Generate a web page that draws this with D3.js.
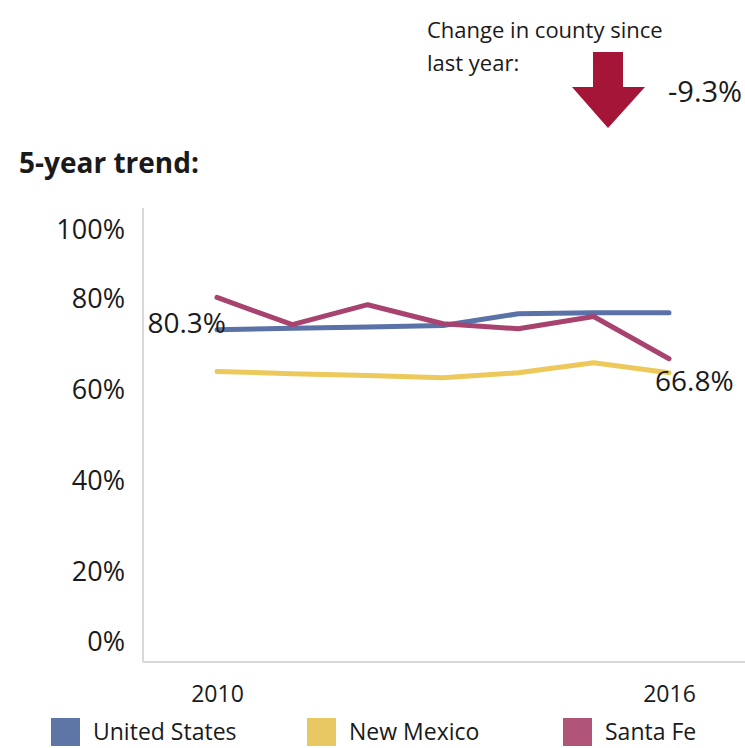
<!DOCTYPE html>
<meta charset="utf-8">
<style>
body { margin: 0; background: #fff; }
svg text { font-family: "Open Sans", Lato, sans-serif; fill: #1a1a1a; }
.line { fill: none; stroke-width: 5; stroke-linejoin: round; stroke-linecap: round; }
</style>
<body>
<svg class="chart js-chart"></svg>
<script src="https://d3js.org/d3.v7.min.js"></script>
<script type="text/javascript">
"use strict";

var years = [2010, 2011, 2012, 2013, 2014, 2015, 2016];
var unitedStates = [73.2, 73.5, 73.8, 74.1, 76.7, 76.9, 76.9];
var newMexico = [64.0, 63.5, 63.1, 62.6, 63.7, 65.9, 63.7];
var santaFe = [80.3, 74.3, 78.7, 74.5, 73.4, 76.1, 66.8];
var seriesNames = ["United States", "New Mexico", "Santa Fe"];
var yTicks = [0, 20, 40, 60, 80, 100];
var xTickYears = [2010, 2016];
var changeSinceLastYear = -9.3;

var width = 745, height = 748;
var plotLeft = 143, plotRight = 745, plotTop = 208, plotBottom = 662;

var lineColors = ["#5a72a8", "#ecc95a", "#a8436f"];
var swatchColors = ["#5e76a6", "#e8c862", "#b05478"];

var svg = d3.select('.js-chart')
  .attr('width', width)
  .attr('height', height);

var x = d3.scalePoint().domain(years).range([217, 669]);
var y = d3.scaleLinear().domain([0, 100]).range([plotBottom, plotTop]);

// header
svg.append("text").attr("x", 427).attr("y", 38).style("font-size", "22px").text("Change in county since");
svg.append("text").attr("x", 427).attr("y", 71).style("font-size", "22px").text("last year:");

// down arrow
svg.append("path")
  .attr("d", "M593,52 L623,52 L623,87 L645,87 L608,128 L572,87 L593,87 Z")
  .style("fill", "#a51538");
svg.append("text").attr("x", 668).attr("y", 102).style("font-size", "29px")
  .text(changeSinceLastYear.toFixed(1) + "%");

svg.append("text").attr("x", 19).attr("y", 173).style("font-size", "28px").style("font-weight", "bold")
  .text("5-year trend:");

// axes
svg.append("line").attr("x1", plotLeft).attr("x2", plotLeft).attr("y1", plotTop).attr("y2", plotBottom)
  .style("stroke", "#d9d9d9").style("stroke-width", 2);
svg.append("line").attr("x1", plotLeft).attr("x2", plotRight).attr("y1", plotBottom).attr("y2", plotBottom)
  .style("stroke", "#d9d9d9").style("stroke-width", 2);

var yAxis = svg.append("g")
  .attr("transform", "translate(125,0)")
  .call(d3.axisLeft(y).tickValues(yTicks).tickSize(0).tickPadding(0).tickFormat(function (d) { return d + "%"; }));
yAxis.select(".domain").remove();
yAxis.selectAll("text")
  .style("font-size", "27px")
  .attr("dy", function (d) { return d === 100 ? "30px" : (d === 0 ? "-12px" : "9px"); });

var xAxis = svg.append("g")
  .attr("transform", "translate(0," + plotBottom + ")")
  .call(d3.axisBottom(x).tickValues(xTickYears).tickSize(0).tickPadding(0));
xAxis.select(".domain").remove();
xAxis.selectAll("text").style("font-size", "23px").attr("dy", "40px");

// lines
var allSeries = [unitedStates, newMexico, santaFe];
var line = d3.line()
  .x(function (d, i) { return x(years[i]); })
  .y(function (d) { return y(d); });

svg.selectAll(".line")
  .data(allSeries)
  .enter().append("path")
  .attr("class", "line")
  .attr("d", line)
  .style("stroke", function (d, i) { return lineColors[i]; });

// data labels for Santa Fe
svg.append("text")
  .attr("x", x(years[0]) + 9).attr("y", y(santaFe[0]) + 36)
  .attr("text-anchor", "end").style("font-size", "28px")
  .text(santaFe[0].toFixed(1) + "%");
svg.append("text")
  .attr("x", x(years[years.length - 1]) - 14).attr("y", y(santaFe[santaFe.length - 1]) + 32)
  .style("font-size", "28px")
  .text(santaFe[santaFe.length - 1].toFixed(1) + "%");

// legend
var legendX = [51, 307, 563];
var legend = svg.selectAll(".legend")
  .data(seriesNames)
  .enter().append("g")
  .attr("class", "legend")
  .attr("transform", function (d, i) { return "translate(" + legendX[i] + ",718)"; });
legend.append("rect").attr("width", 29).attr("height", 28)
  .style("fill", function (d, i) { return swatchColors[i]; });
legend.append("text").attr("x", 42).attr("y", 22).style("font-size", "23px")
  .text(function (d) { return d; });
</script>
</body>
